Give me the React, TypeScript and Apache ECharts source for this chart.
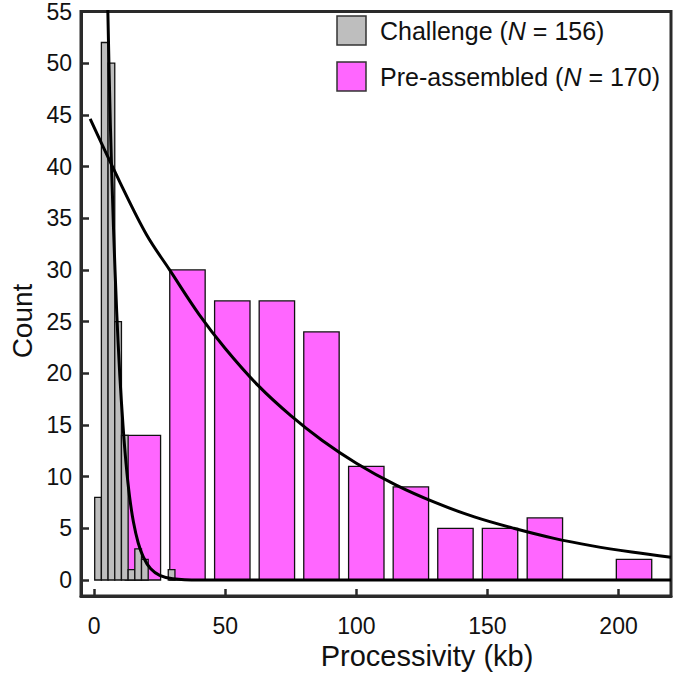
import React, { useEffect, useRef } from "react";
import * as echarts from "echarts";

// Challenge histogram (grey)
const challengeBinCenters = [1.5, 4.05, 6.6, 9.15, 11.7, 14.25, 16.8, 19.35, 29.55];
const challengeCounts = [8, 52, 50, 25, 14, 1, 3, 2, 1];
const challengeBinWidth = 2.55;

// Pre-assembled histogram (magenta)
const preBinCenters = [18.6, 35.6, 52.7, 69.7, 86.7, 103.8, 120.8, 137.8, 154.8, 171.9, 205.9];
const preCounts = [14, 30, 27, 27, 24, 11, 9, 5, 5, 6, 2];
const preBinWidth = 13.5;

// Fitted curves
const challengeFitX = [4.9, 5.2, 6.2, 7.4, 8.6, 9.8, 11.0, 12.2, 13.5, 15.0, 16.8, 18.8, 21.5, 25.0, 30.0, 40.0, 60.0, 220.0];
const challengeFitY = [60.0, 55.5, 44.0, 34.0, 26.0, 19.8, 15.0, 11.2, 8.1, 5.6, 3.6, 2.2, 1.1, 0.45, 0.12, 0.0, 0.0, 0.0];

const preFitX = [-1.5, 10, 20, 28.8, 40, 50, 62.6, 75, 87, 100, 115, 130, 145, 160, 175, 190, 205, 220];
const preFitY = [44.6, 38.4, 33.4, 30.0, 25.7, 22.4, 18.8, 15.9, 13.5, 11.3, 9.2, 7.5, 6.1, 5.0, 4.05, 3.3, 2.7, 2.2];

const xTicks = [0, 50, 100, 150, 200];
const yTicks = [0, 5, 10, 15, 20, 25, 30, 35, 40, 45, 50, 55];

const FONT = "Liberation Sans, Arial, Helvetica, sans-serif";
const FRAME = "#2a2a2a";

function barRender(fill: string) {
  return (params: any, api: any) => {
    const x = api.value(0);
    const y = api.value(1);
    const w = api.value(2);
    const p0 = api.coord([x - w / 2, y]);
    const p1 = api.coord([x + w / 2, 0]);
    return {
      type: "rect",
      shape: { x: p0[0], y: p0[1], width: p1[0] - p0[0], height: p1[1] - p0[1] },
      style: { fill, stroke: "#111", lineWidth: 1.3 },
    };
  };
}

export default function App() {
  const ref = useRef<HTMLDivElement>(null);
  useEffect(() => {
    if (!ref.current) return;
    const chart = echarts.init(ref.current, undefined, { renderer: "svg" });
    const option: any = {
      animation: false,
      backgroundColor: "#ffffff",
      grid: {
        left: 81,
        top: 5,
        width: 590,
        height: 591,
        show: true,
        borderColor: FRAME,
        borderWidth: 3,
        backgroundColor: "transparent",
      },
      xAxis: {
        type: "value",
        min: -5,
        max: 220,
        splitLine: { show: false },
        axisLine: { show: true, onZero: false, lineStyle: { color: FRAME, width: 3 } },
        axisTick: {
          show: true,
          inside: true,
          length: 7,
          customValues: xTicks,
          lineStyle: { color: FRAME, width: 2.5 },
        },
        axisLabel: {
          customValues: xTicks,
          fontSize: 23,
          color: "#111",
          fontFamily: FONT,
          margin: 18,
        },
      },
      yAxis: {
        type: "value",
        min: -1.55,
        max: 55,
        splitLine: { show: false },
        axisLine: { show: true, onZero: false, lineStyle: { color: FRAME, width: 3 } },
        axisTick: {
          show: true,
          inside: true,
          length: 8,
          customValues: yTicks,
          lineStyle: { color: FRAME, width: 2.5 },
        },
        axisLabel: {
          customValues: yTicks,
          fontSize: 23,
          color: "#111",
          fontFamily: FONT,
          margin: 9,
        },
      },
      series: [
        {
          type: "custom",
          name: "Pre-assembled",
          renderItem: barRender("#ff66ff"),
          encode: { x: 0, y: 1 },
          data: preBinCenters.map((c, i) => [c, preCounts[i], preBinWidth]),
          z: 2,
        },
        {
          type: "custom",
          name: "Challenge",
          renderItem: barRender("#bebebe"),
          encode: { x: 0, y: 1 },
          data: challengeBinCenters.map((c, i) => [c, challengeCounts[i], challengeBinWidth]),
          z: 3,
        },
        {
          type: "line",
          data: preFitX.map((x, i) => [x, preFitY[i]]),
          showSymbol: false,
          smooth: 0.35,
          lineStyle: { color: "#000", width: 3 },
          clip: true,
          z: 4,
        },
        {
          type: "line",
          data: challengeFitX.map((x, i) => [x, challengeFitY[i]]),
          showSymbol: false,
          smooth: 0.3,
          lineStyle: { color: "#000", width: 3 },
          clip: true,
          z: 5,
        },
      ],
      graphic: [
        {
          type: "rect",
          shape: { x: 337, y: 16, width: 29, height: 29 },
          style: { fill: "#bebebe", stroke: "#333", lineWidth: 1.5 },
          z: 10,
        },
        {
          type: "rect",
          shape: { x: 337, y: 62, width: 29, height: 29 },
          style: { fill: "#ff66ff", stroke: "#333", lineWidth: 1.5 },
          z: 10,
        },
        {
          type: "text",
          x: 380,
          y: 31,
          z: 10,
          style: {
            text: "{a|Challenge (}{i|N}{a| = 156)}",
            verticalAlign: "middle",
            fill: "#111",
            rich: {
              a: { fontSize: 25, fontFamily: FONT, fill: "#111" },
              i: { fontSize: 25, fontFamily: FONT, fontStyle: "italic", fill: "#111" },
            },
          },
        },
        {
          type: "text",
          x: 380,
          y: 77,
          z: 10,
          style: {
            text: "{a|Pre-assembled (}{i|N}{a| = 170)}",
            verticalAlign: "middle",
            fill: "#111",
            rich: {
              a: { fontSize: 25, fontFamily: FONT, fill: "#111" },
              i: { fontSize: 25, fontFamily: FONT, fontStyle: "italic", fill: "#111" },
            },
          },
        },
        {
          type: "text",
          x: 427,
          y: 656,
          style: {
            text: "Processivity (kb)",
            fontSize: 29,
            fontFamily: FONT,
            fill: "#111",
            align: "center",
            verticalAlign: "middle",
          },
        },
        {
          type: "text",
          x: 22,
          y: 321,
          rotation: Math.PI / 2,
          style: {
            text: "Count",
            fontSize: 28,
            fontFamily: FONT,
            fill: "#111",
            align: "center",
            verticalAlign: "middle",
          },
        },
      ],
    };
    chart.setOption(option);
    return () => chart.dispose();
  }, []);
  return <div ref={ref} style={{ width: 674, height: 675, position: "absolute", left: 0, top: 0 }} />;
}
